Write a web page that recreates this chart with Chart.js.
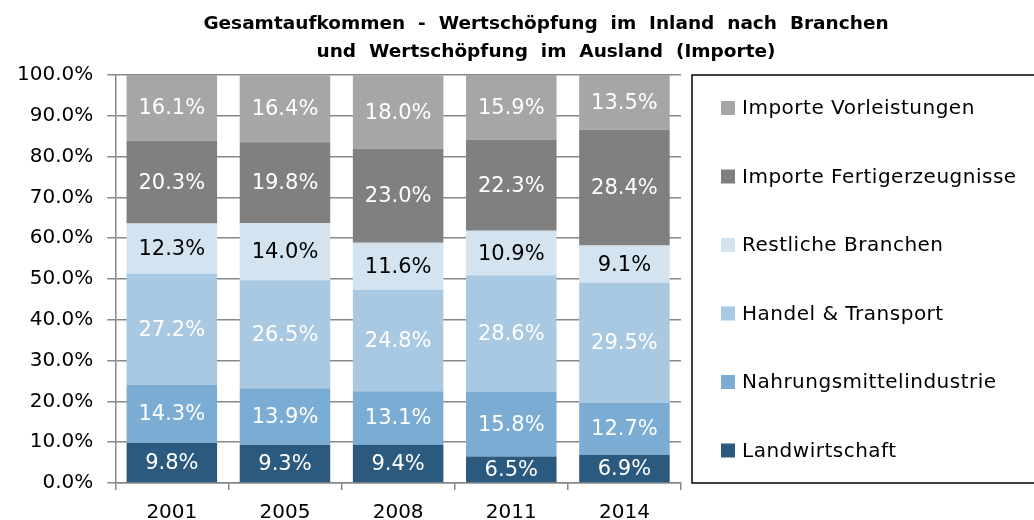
<!DOCTYPE html>
<html>
<head>
<meta charset="utf-8">
<script src="https://cdn.jsdelivr.net/npm/chart.js@4"></script>
<style>html,body{margin:0;padding:0;background:#fff;}</style>
</head>
<body>
<canvas id="c" width="1034" height="520"></canvas>
<script>
const categories = ['2001', '2005', '2008', '2011', '2014'];
const landwirtschaft = [9.8, 9.3, 9.4, 6.5, 6.9];
const nahrungsmittel = [14.3, 13.9, 13.1, 15.8, 12.7];
const handelTransport = [27.2, 26.5, 24.8, 28.6, 29.5];
const restlicheBranchen = [12.3, 14.0, 11.6, 10.9, 9.1];
const importeFertig = [20.3, 19.8, 23.0, 22.3, 28.4];
const importeVorl = [16.1, 16.4, 18.0, 15.9, 13.5];
const yTicks = [0, 10, 20, 30, 40, 50, 60, 70, 80, 90, 100];
const titleLines = ['Gesamtaufkommen  -  Wertschöpfung  im  Inland  nach  Branchen', 'und  Wertschöpfung  im  Ausland  (Importe)'];

const FONT = 'DejaVu Sans';

const datasets = [
  {label: 'Landwirtschaft', data: landwirtschaft, backgroundColor: '#2B5A7E', labelColor: '#fff'},
  {label: 'Nahrungsmittelindustrie', data: nahrungsmittel, backgroundColor: '#7BACD4', labelColor: '#fff'},
  {label: 'Handel & Transport', data: handelTransport, backgroundColor: '#A9C8E2', labelColor: '#fff'},
  {label: 'Restliche Branchen', data: restlicheBranchen, backgroundColor: '#D4E3F0', labelColor: '#000'},
  {label: 'Importe Fertigerzeugnisse', data: importeFertig, backgroundColor: '#808080', labelColor: '#fff'},
  {label: 'Importe Vorleistungen', data: importeVorl, backgroundColor: '#A6A6A6', labelColor: '#fff'}
].map(d => Object.assign(d, {barPercentage: 0.8, categoryPercentage: 1.0, borderWidth: 0}));

const overlay = {
  id: 'overlay',
  afterDatasetsDraw(chart) {
    const ctx = chart.ctx;
    ctx.save();
    ctx.textAlign = 'center';
    ctx.textBaseline = 'middle';
    ctx.font = '21px "' + FONT + '"';
    chart.data.datasets.forEach((ds, i) => {
      const meta = chart.getDatasetMeta(i);
      meta.data.forEach((el, j) => {
        const y = (el.y + el.base) / 2;
        ctx.fillStyle = ds.labelColor;
        ctx.fillText(ds.data[j].toFixed(1) + '%', el.x, y + 1);
      });
    });
    ctx.restore();
  },
  afterDraw(chart) {
    const ctx = chart.ctx;
    ctx.save();
    // title
    ctx.fillStyle = '#000';
    ctx.textAlign = 'center';
    ctx.textBaseline = 'middle';
    ctx.font = 'bold 18.5px "' + FONT + '"';
    ctx.fillText(titleLines[0], 546, 24);
    ctx.fillText(titleLines[1], 546, 52);
    // legend box
    ctx.strokeStyle = '#000';
    ctx.lineWidth = 1.5;
    ctx.strokeRect(692, 75, 360, 408);
    const items = chart.data.datasets.slice().reverse();
    ctx.textAlign = 'left';
    ctx.font = '20px "' + FONT + '"';
    if ('letterSpacing' in ctx) ctx.letterSpacing = '0.5px';
    items.forEach((ds, k) => {
      const y = 108 + k * 68.5;
      ctx.fillStyle = ds.backgroundColor;
      ctx.fillRect(721, y - 7, 14, 14);
      ctx.fillStyle = '#000';
      ctx.fillText(ds.label, 742, y + 1);
    });
    ctx.restore();
  }
};

new Chart(document.getElementById('c'), {
  type: 'bar',
  data: {labels: categories, datasets: datasets},
  options: {
    responsive: false,
    animation: false,
    layout: {padding: {left: 3, right: 353, top: 75, bottom: 0}},
    plugins: {legend: {display: false}, title: {display: false}, tooltip: {enabled: false}},
    scales: {
      x: {
        stacked: true,
        afterFit(axis) { axis.height = 37; },
        grid: {display: true, drawOnChartArea: false, drawTicks: true, tickLength: 7, offset: true, color: '#878787', lineWidth: 1.5},
        border: {display: true, color: '#878787', width: 1.5},
        ticks: {color: '#000', font: {family: FONT, size: 20}, padding: 11}
      },
      y: {
        stacked: true,
        min: 0, max: 100,
        afterBuildTicks(axis) { axis.ticks = yTicks.map(v => ({value: v})); },
        grid: {color: '#878787', lineWidth: 1.5, tickLength: 8},
        border: {display: true, color: '#878787', width: 1.5},
        ticks: {color: '#000', font: {family: FONT, size: 20}, padding: 14, callback: v => Number(v).toFixed(1) + '%'}
      }
    }
  },
  plugins: [overlay]
});
</script>
</body>
</html>
